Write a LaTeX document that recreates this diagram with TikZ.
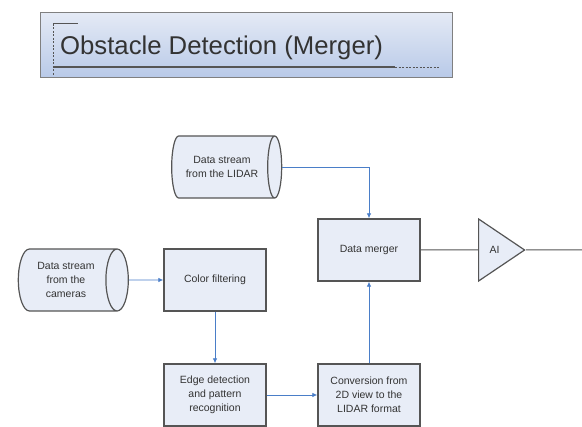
\documentclass[tikz,border=0pt]{standalone}
\usepackage{fontspec}
\setmainfont{Liberation Sans}
\usetikzlibrary{shapes.geometric,arrows.meta}
\definecolor{boxfill}{RGB}{232,237,247}
\definecolor{boxline}{RGB}{85,85,85}
\definecolor{flowblue}{RGB}{74,126,200}
\definecolor{titletop}{RGB}{228,234,245}
\definecolor{titlebot}{RGB}{184,201,232}

\begin{document}
\begin{tikzpicture}[x=1pt, y=-1pt,
  block/.style={draw=boxline, line width=1.4pt, fill=boxfill, minimum width=102pt, minimum height=62pt,
    inner sep=1pt, align=center, font=\fontsize{10.5}{14}\selectfont, text=black!80},
  source/.style={cylinder, draw=boxline, line width=1.2pt, fill=boxfill, shape aspect=0.6,
    minimum height=110pt, minimum width=62pt, inner sep=1pt, align=center,
    font=\fontsize{10.5}{14}\selectfont, text=black!80},
  ai/.style={isosceles triangle, isosceles triangle stretches, draw=boxline, line width=1.2pt, fill=boxfill,
    minimum width=62pt, minimum height=46pt, inner sep=0pt, anchor=west,
    font=\fontsize{10.5}{14}\selectfont, text=black!80},
  flow/.style={flowblue, line width=0.8pt, -{Latex[length=5pt,width=4.5pt]}},
  wire/.style={boxline, line width=1pt}]
\useasboundingbox (0,0) rectangle (582,427);

% title banner
\shade[top color=titletop, bottom color=titlebot, draw=gray, line width=1pt] (40,13) rectangle (452,78);
\draw[boxline, line width=0.8pt, dash pattern=on 2pt off 1.5pt] (53,24) -- (53,75);
\draw[boxline, line width=1pt] (53,24) -- (78,24);
\draw[boxline, line width=1.6pt] (53,67) -- (395,67);
\draw[boxline, line width=0.8pt, dash pattern=on 2pt off 1.5pt] (395,67) -- (440,67);
\node[anchor=base west, inner sep=0pt, font=\fontsize{25.7}{30}\selectfont, text=black!80] (title) at (60,55) {Obstacle Detection (Merger)};

% sources
\node[source] (lidar) at (222,167) {Data stream\\from the LIDAR};
\node[source] (cams) at (66,280) {Data stream\\from the\\cameras};

% processing
\node[block] (color) at (215,280) {Color filtering};
\node[block] (edge) at (215,395) {Edge detection\\and pattern\\recognition};
\node[block] (conv) at (369,395) {Conversion from\\2D view to the\\LIDAR format};
\node[block] (merge) at (369,250) {Data merger};
\node[ai] (ai) at (478,250) {AI};
\coordinate (out) at (582,250);

% connections
\draw[flow] (cams) -- (color);
\draw[flow] (color) -- (edge);
\draw[flow] (edge) -- (conv);
\draw[flow] (conv) -- (merge);
\draw[flow] (lidar.east) -| (merge.north);
\draw[wire] (merge) -- (ai);
\draw[wire] (ai.apex) -- (out);
\end{tikzpicture}
\end{document}
